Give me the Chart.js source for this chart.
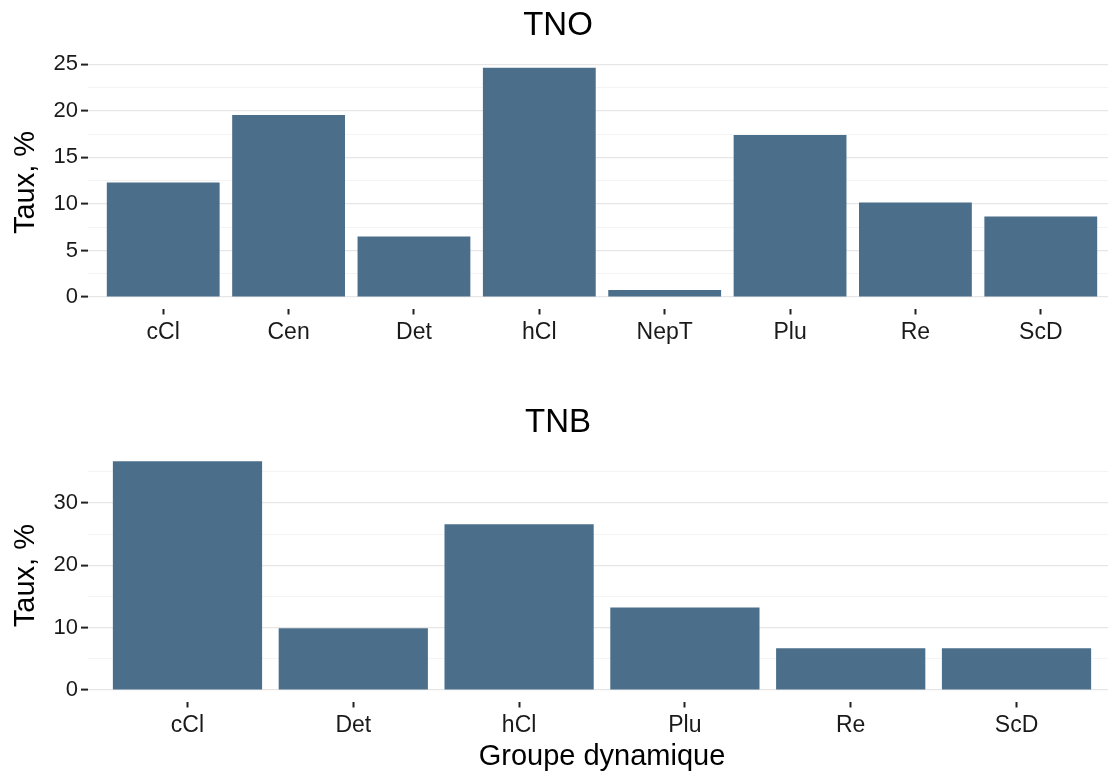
<!DOCTYPE html>
<html>
<head>
<meta charset="utf-8">
<script src="https://cdn.jsdelivr.net/npm/chart.js@4/dist/chart.umd.min.js"></script>
<style>
  html, body { margin: 0; padding: 0; background: #fff; }
  #wrap { position: relative; width: 1108px; height: 775px; overflow: hidden; }
  canvas { position: absolute; left: 0; }
  #tno { top: 0; }
  #tnb { top: 390px; }
</style>
</head>
<body>
<div id="wrap">
  <canvas id="tno" width="1120" height="390"></canvas>
  <canvas id="tnb" width="1120" height="385"></canvas>
</div>
<script>
// TNO panel
const groupsTNO = ['cCl', 'Cen', 'Det', 'hCl', 'NepT', 'Plu', 'Re', 'ScD'];
const tauxTNO = [12.3, 19.55, 6.5, 24.6, 0.75, 17.4, 10.15, 8.65];
const ticksTNO = [0, 5, 10, 15, 20, 25];

// TNB panel
const groupsTNB = ['cCl', 'Det', 'hCl', 'Plu', 'Re', 'ScD'];
const tauxTNB = [36.7, 9.9, 26.6, 13.25, 6.7, 6.7];
const ticksTNB = [0, 10, 20, 30];

const FONT = "'Liberation Sans', Arial, Helvetica, sans-serif";
const BAR = '#4b6f8b';

Chart.defaults.font.family = FONT;
Chart.defaults.color = '#1a1a1a';

function makePanel(id, title, cats, vals, majors, opt) {
    const step = (majors[1] - majors[0]) / 2;      // minor grid halfway between majors
    const top = Math.max(...vals);
    const yMin = -0.05 * top, yMax = top * 1.05; // ggplot-like expansion
    const isMajor = v => majors.some(m => Math.abs(m - v) < 1e-6);

    return new Chart(document.getElementById(id), {
        type: 'bar',
        data: {
            datasets: [{
                data: vals.map((v, i) => ({ x: i, y: v })),
                backgroundColor: BAR,
                borderWidth: 0,
                barPercentage: 0.9,
                categoryPercentage: 1.0
            }]
        },
        options: {
            responsive: false,
            animation: false,
            layout: { padding: { left: 0, right: 4, top: 0, bottom: 0 } },
            plugins: {
                legend: { display: false },
                tooltip: { enabled: false },
                title: {
                    display: true,
                    text: title,
                    color: '#000',
                    font: { size: 33, weight: 'normal', family: FONT },
                    padding: opt.titlePad
                }
            },
            scales: {
                x: {
                    type: 'linear',
                    offset: false,
                    min: -0.6,
                    max: cats.length - 0.4,
                    afterBuildTicks: s => { s.ticks = cats.map((c, i) => ({ value: i })); },
                    afterFit: s => { s.height = opt.xHeight; },
                    border: { display: false },
                    grid: { offset: false, drawOnChartArea: false, drawTicks: true, tickLength: 6, tickWidth: 2, tickColor: '#222' },
                    ticks: {
                        autoSkip: false, maxRotation: 0, padding: 4,
                        font: { size: 23 },
                        callback: v => cats[v]
                    },
                    title: {
                        display: opt.xTitle,
                        text: 'Groupe dynamique',
                        color: '#000',
                        font: { size: 29 },
                        padding: { top: 0, bottom: 0.6 }
                    }
                },
                y: {
                    min: yMin,
                    max: yMax,
                    afterBuildTicks: s => {
                        const t = [];
                        for (let v = 0; v <= yMax + 1e-9; v += step) t.push({ value: +v.toFixed(3) });
                        s.ticks = t;
                    },
                    afterFit: s => { s.width = 88; },
                    border: { display: false },
                    grid: {
                        color: c => (c.tick && isMajor(c.tick.value)) ? '#e6e6e6' : '#f4f4f4',
                        lineWidth: c => (c.tick && isMajor(c.tick.value)) ? 1.2 : 1,
                        drawTicks: true,
                        tickLength: 7,
                        tickWidth: 2,
                        tickColor: c => (c.tick && isMajor(c.tick.value)) ? '#222' : 'rgba(0,0,0,0)'
                    },
                    ticks: {
                        autoSkip: false, padding: 3,
                        font: { size: 22 },
                        callback: v => isMajor(v) ? String(Math.round(v)) : ''
                    },
                    title: {
                        display: true,
                        text: 'Taux, %',
                        color: '#000',
                        font: { size: 29 },
                        padding: { top: 8.6, bottom: 0 }
                    }
                }
            }
        }
    });
}

makePanel('tno', 'TNO', groupsTNO, tauxTNO, ticksTNO, {
    titlePad: { top: 5.8, bottom: 11 },
    xHeight: 81.5,
    xTitle: false
});

makePanel('tnb', 'TNB', groupsTNB, tauxTNB, ticksTNB, {
    titlePad: { top: 12.8, bottom: 7.4 },
    xHeight: 73.5,
    xTitle: true
});
</script>
</body>
</html>
